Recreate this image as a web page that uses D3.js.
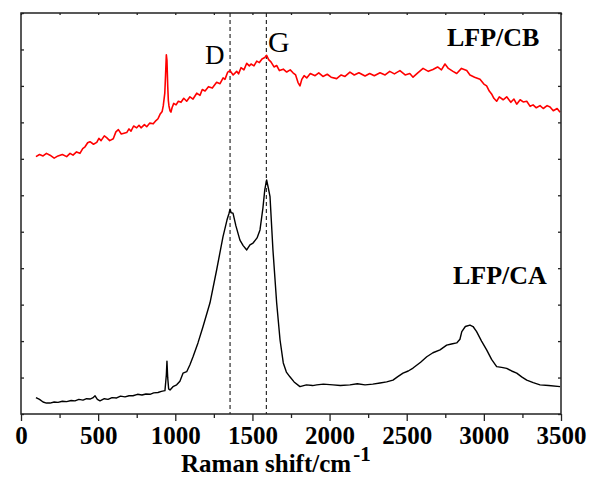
<!DOCTYPE html>
<html>
<head>
<meta charset="utf-8">
<script src="https://cdn.jsdelivr.net/npm/d3@7"></script>
<style>
  body { margin: 0; background: #fff; }
  svg { display: block; }
</style>
</head>
<body>
<div id="chart"></div>
<script>
// LFP/CB spectrum (red)
const cbShift = [97, 120, 143, 165, 188, 215, 240, 268, 296, 318, 337, 360, 382, 400, 415, 432, 447, 470, 491, 505, 519, 540, 555, 575, 598, 615, 631, 650, 685, 700, 713, 730, 750, 765, 778, 800, 815, 835, 857, 875, 888, 901, 915, 922, 932, 937, 942, 946, 951, 955, 959, 966, 972, 979, 990, 1005, 1020, 1037, 1055, 1074, 1095, 1115, 1139, 1160, 1175, 1193, 1215, 1240, 1268, 1290, 1310, 1322, 1340, 1355, 1375, 1398, 1410, 1426, 1445, 1463, 1480, 1491, 1510, 1528, 1545, 1562, 1580, 1592, 1605, 1620, 1640, 1657, 1675, 1700, 1722, 1745, 1763, 1780, 1795, 1808, 1820, 1835, 1852, 1875, 1906, 1930, 1957, 1985, 2010, 2046, 2075, 2100, 2132, 2160, 2190, 2230, 2260, 2290, 2327, 2360, 2390, 2420, 2456, 2490, 2520, 2541, 2570, 2606, 2640, 2670, 2700, 2725, 2748, 2770, 2800, 2824, 2855, 2889, 2910, 2940, 2975, 3000, 3018, 3035, 3050, 3065, 3083, 3100, 3125, 3148, 3175, 3195, 3213, 3235, 3255, 3278, 3300, 3319, 3340, 3364, 3385, 3410, 3429, 3450, 3475, 3494];
const cbIntensity = [7.06, 7.12, 7.08, 7.15, 7.10, 7.02, 7.08, 7.12, 7.06, 7.15, 7.10, 7.19, 7.15, 7.28, 7.33, 7.44, 7.47, 7.40, 7.45, 7.56, 7.50, 7.63, 7.58, 7.50, 7.55, 7.74, 7.80, 7.68, 7.72, 7.82, 7.76, 7.90, 7.85, 7.92, 7.85, 7.94, 7.88, 7.98, 7.96, 8.05, 8.10, 8.22, 8.30, 8.45, 8.80, 9.30, 9.85, 9.70, 9.00, 8.60, 8.45, 8.32, 8.28, 8.40, 8.52, 8.48, 8.58, 8.55, 8.66, 8.58, 8.70, 8.64, 8.80, 8.74, 8.90, 8.86, 8.98, 8.94, 9.10, 9.06, 9.22, 9.18, 9.38, 9.42, 9.30, 9.40, 9.33, 9.50, 9.44, 9.62, 9.55, 9.60, 9.55, 9.68, 9.64, 9.74, 9.78, 9.84, 9.72, 9.66, 9.52, 9.56, 9.42, 9.46, 9.38, 9.44, 9.36, 9.30, 9.10, 9.00, 9.18, 9.28, 9.22, 9.34, 9.28, 9.36, 9.26, 9.32, 9.24, 9.20, 9.30, 9.26, 9.38, 9.30, 9.36, 9.27, 9.34, 9.28, 9.36, 9.30, 9.40, 9.33, 9.42, 9.30, 9.34, 9.24, 9.35, 9.48, 9.40, 9.45, 9.52, 9.44, 9.60, 9.48, 9.40, 9.34, 9.48, 9.42, 9.30, 9.24, 9.18, 9.05, 9.00, 8.86, 8.78, 8.66, 8.58, 8.70, 8.62, 8.70, 8.55, 8.64, 8.50, 8.62, 8.56, 8.58, 8.44, 8.48, 8.40, 8.46, 8.38, 8.46, 8.42, 8.32, 8.38, 8.28];

// LFP/CA spectrum (black)
const caShift = [97, 120, 143, 165, 188, 215, 240, 268, 296, 325, 350, 375, 402, 425, 447, 465, 480, 495, 512, 540, 564, 590, 620, 645, 674, 700, 726, 755, 784, 810, 836, 860, 888, 910, 933, 942, 946, 951, 957, 966, 985, 1009, 1030, 1050, 1074, 1095, 1115, 1147, 1180, 1225, 1268, 1309, 1335, 1348, 1355, 1362, 1374, 1393, 1419, 1440, 1463, 1484, 1504, 1530, 1549, 1568, 1580, 1592, 1603, 1614, 1633, 1657, 1679, 1700, 1720, 1743, 1770, 1808, 1850, 1890, 1917, 1960, 2022, 2070, 2132, 2180, 2230, 2280, 2327, 2370, 2411, 2440, 2476, 2510, 2541, 2590, 2630, 2670, 2716, 2759, 2790, 2824, 2845, 2857, 2880, 2910, 2930, 2953, 2985, 3018, 3050, 3083, 3115, 3148, 3180, 3213, 3245, 3278, 3320, 3364, 3420, 3494];
const caIntensity = [0.45, 0.40, 0.33, 0.30, 0.30, 0.33, 0.32, 0.35, 0.34, 0.37, 0.36, 0.40, 0.38, 0.42, 0.41, 0.44, 0.50, 0.40, 0.36, 0.42, 0.40, 0.45, 0.44, 0.49, 0.47, 0.50, 0.50, 0.54, 0.52, 0.55, 0.54, 0.58, 0.59, 0.62, 0.64, 1.07, 1.45, 0.99, 0.69, 0.66, 0.75, 0.80, 0.90, 1.12, 1.16, 1.35, 1.57, 1.95, 2.40, 3.05, 3.95, 4.86, 5.32, 5.50, 5.62, 5.52, 5.51, 5.16, 4.77, 4.62, 4.50, 4.64, 4.69, 4.83, 5.05, 5.65, 6.15, 6.42, 6.20, 5.96, 4.50, 3.05, 2.03, 1.40, 1.15, 1.02, 0.88, 0.75, 0.80, 0.78, 0.80, 0.82, 0.80, 0.78, 0.80, 0.83, 0.80, 0.82, 0.85, 0.88, 0.93, 1.02, 1.12, 1.18, 1.26, 1.42, 1.57, 1.68, 1.76, 1.89, 1.92, 1.95, 2.05, 2.26, 2.40, 2.44, 2.40, 2.26, 2.00, 1.76, 1.50, 1.30, 1.28, 1.25, 1.18, 1.12, 1.02, 0.93, 0.86, 0.80, 0.78, 0.75];

const bandPositions = [1355, 1590];
const bandNames = ["D", "G"];
const xMajorTicks = [0, 500, 1000, 1500, 2000, 2500, 3000, 3500];
const xMinorTicks = [250, 750, 1250, 1750, 2250, 2750, 3250];

const W = 600, H = 479;
const margin = { top: 13, right: 39, bottom: 65, left: 21 };
const width = W - margin.left - margin.right;
const height = H - margin.top - margin.bottom;

const svg = d3.select("#chart").append("svg")
  .attr("width", W).attr("height", H);
const g = svg.append("g")
  .attr("transform", `translate(${margin.left},${margin.top})`);

const x = d3.scaleLinear().domain([0, 3500]).range([0, width]);
const y = d3.scaleLinear().domain([0, 11]).range([height, 0]);

const serif = "Times New Roman, Liberation Serif, Tinos, serif";

// minor ticks first
g.append("g")
  .attr("transform", `translate(0,${height})`)
  .call(d3.axisBottom(x).tickValues(xMinorTicks).tickSize(4).tickFormat(""))
  .call(a => a.select(".domain").remove());

g.append("g")
  .attr("transform", `translate(0,${height})`)
  .call(d3.axisBottom(x).tickValues(xMajorTicks).tickSize(7).tickPadding(5).tickFormat(d3.format("d")))
  .call(a => a.select(".domain").remove())
  .call(a => a.selectAll("text")
    .style("font-family", serif).style("font-weight", "bold")
    .style("font-size", "25px").attr("fill", "#000"));

g.append("g")
  .call(d3.axisTop(x).tickValues(d3.range(0, 3501, 250)).tickSize(-2).tickFormat(""))
  .call(a => a.select(".domain").remove());

g.append("g")
  .call(d3.axisLeft(y).ticks(11).tickSize(-3).tickFormat(""))
  .call(a => a.select(".domain").remove());

g.append("g")
  .attr("transform", `translate(${width},0)`)
  .call(d3.axisRight(y).ticks(11).tickSize(-3).tickFormat(""))
  .call(a => a.select(".domain").remove());

g.selectAll(".tick line").attr("stroke", "#222").attr("stroke-width", 1.3);

// dashed band markers
g.selectAll(".band")
  .data(bandPositions)
  .enter().append("line")
  .attr("x1", d => x(d)).attr("x2", d => x(d))
  .attr("y1", 0).attr("y2", height)
  .attr("stroke", "#000").attr("stroke-width", 1)
  .attr("stroke-dasharray", "4,3");

const line = d3.line().x(d => x(d[0])).y(d => y(d[1]));

g.append("path")
  .datum(d3.zip(cbShift, cbIntensity))
  .attr("d", line)
  .attr("fill", "none").attr("stroke", "#ff0000").attr("stroke-width", 1.6)
  .attr("stroke-linejoin", "round");

g.append("path")
  .datum(d3.zip(caShift, caIntensity))
  .attr("d", line)
  .attr("fill", "none").attr("stroke", "#000").attr("stroke-width", 1.4)
  .attr("stroke-linejoin", "round");

// frame
g.append("rect")
  .attr("width", width).attr("height", height)
  .attr("fill", "none").attr("stroke", "#222").attr("stroke-width", 1.5);

// band labels
const bandLabelX = [205, 268];
const bandLabelY = [64, 52];
const bandLabelSize = [27, 30];
svg.selectAll(".bandLabel")
  .data(bandNames)
  .enter().append("text")
  .attr("x", (d, i) => bandLabelX[i]).attr("y", (d, i) => bandLabelY[i])
  .style("font-family", serif).style("font-size", (d, i) => bandLabelSize[i] + "px")
  .text(d => d);

// sample labels
svg.append("text")
  .attr("x", 447).attr("y", 46)
  .style("font-family", serif).style("font-weight", "bold").style("font-size", "26px")
  .text("LFP/CB");
svg.append("text")
  .attr("x", 453).attr("y", 284)
  .style("font-family", serif).style("font-weight", "bold").style("font-size", "26px")
  .text("LFP/CA");

// axis title
const title = svg.append("text")
  .attr("x", 181).attr("y", 472)
  .style("font-family", serif).style("font-weight", "bold").style("font-size", "25px");
title.append("tspan").text("Raman shift/cm");
title.append("tspan").text("-1")
  .style("font-size", "21px").attr("dy", -11).attr("dx", 2);
</script>
</body>
</html>
